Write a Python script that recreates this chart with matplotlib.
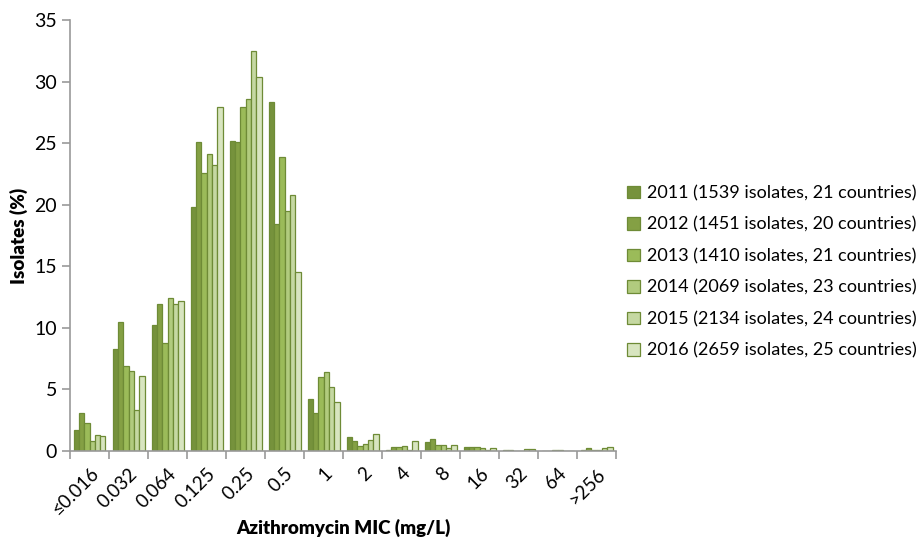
import numpy as np
import matplotlib
matplotlib.use('Agg')
import matplotlib.pyplot as plt

plt.rcParams['font.family'] = ['Lato', 'DejaVu Sans']

# MIC categories
mic_labels = ['≤0.016', '0.032', '0.064', '0.125', '0.25', '0.5', '1',
              '2', '4', '8', '16', '32', '64', '>256']

# percentage of isolates per year
y2011 = [1.7, 8.3, 10.2, 19.8, 25.2, 28.3, 4.2, 1.1, 0.05, 0.7, 0.3, 0.05, 0.0, 0.1]
y2012 = [3.1, 10.5, 11.9, 25.1, 25.1, 18.4, 3.1, 0.8, 0.3, 1.0, 0.3, 0.05, 0.0, 0.2]
y2013 = [2.3, 6.9, 8.8, 22.6, 27.9, 23.9, 6.0, 0.4, 0.3, 0.5, 0.3, 0.0, 0.05, 0.05]
y2014 = [0.8, 6.5, 12.4, 24.1, 28.6, 19.5, 6.4, 0.6, 0.4, 0.5, 0.2, 0.0, 0.05, 0.05]
y2015 = [1.3, 3.3, 11.9, 23.2, 32.5, 20.8, 5.2, 0.9, 0.1, 0.2, 0.1, 0.15, 0.0, 0.2]
y2016 = [1.2, 6.1, 12.2, 27.9, 30.4, 14.5, 4.0, 1.4, 0.8, 0.5, 0.2, 0.15, 0.0, 0.3]

series_labels = ['2011 (1539 isolates, 21 countries)',
                 '2012 (1451 isolates, 20 countries)',
                 '2013 (1410 isolates, 21 countries)',
                 '2014 (2069 isolates, 23 countries)',
                 '2015 (2134 isolates, 24 countries)',
                 '2016 (2659 isolates, 25 countries)']
colors = ['#76923C', '#84A044', '#9BBB59', '#B1CB7E', '#C5D8A2', '#D8E5C0']

series = [y2011, y2012, y2013, y2014, y2015, y2016]

fig = plt.figure(figsize=(9.21, 5.4), dpi=100)
ax = fig.add_axes([0.076, 0.165, 0.593, 0.798])

x = np.arange(len(mic_labels))
n = len(series)
width = 0.82 / n
for i, (vals, lab, col) in enumerate(zip(series, series_labels, colors)):
    ax.bar(x - 0.41 + width * (i + 0.5), vals, width, color=col,
           edgecolor='#6E8B36', linewidth=0.9, label=lab)

ax.set_xlim(-0.5, len(mic_labels) - 0.5)
ax.set_ylim(0, 35)
ax.set_yticks(range(0, 36, 5))

ax.set_xticks(x)
ax.set_xticklabels(mic_labels, rotation=45, ha='right', va='top',
                   rotation_mode='anchor', fontsize=13.5)
ax.tick_params(axis='x', which='major', length=0, pad=10)
ax.set_xticks(np.arange(-0.5, len(mic_labels)), minor=True)
ax.tick_params(axis='x', which='minor', length=6, color='#999999', width=1.2)
ax.tick_params(axis='y', length=6, color='#999999', width=1.2, labelsize=14)

for s in ['top', 'right']:
    ax.spines[s].set_visible(False)
for s in ['left', 'bottom']:
    ax.spines[s].set_color('#999999')
    ax.spines[s].set_linewidth(1.2)

ax.set_ylabel('Isolates (%)', fontsize=13.5, fontweight='heavy')
ax.set_xlabel('Azithromycin MIC (mg/L)', fontsize=13.5, fontweight='heavy', labelpad=0)

ax.legend(loc='center left', bbox_to_anchor=(1.0, 0.415), frameon=False,
          fontsize=13, handlelength=0.7, handleheight=0.7, handletextpad=0.4,
          labelspacing=0.85, borderaxespad=0.2)

fig.savefig('out.png', dpi=100)
